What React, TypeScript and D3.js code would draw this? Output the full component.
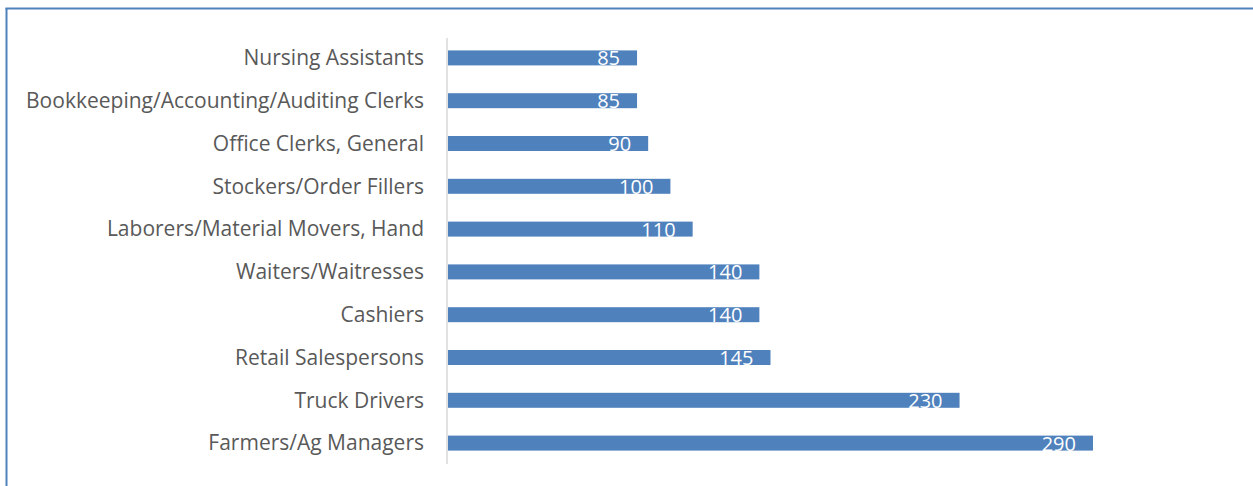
import React from "react";
import * as d3 from "d3";

const categories = [
  "Nursing Assistants",
  "Bookkeeping/Accounting/Auditing Clerks",
  "Office Clerks, General",
  "Stockers/Order Fillers",
  "Laborers/Material Movers, Hand",
  "Waiters/Waitresses",
  "Cashiers",
  "Retail Salespersons",
  "Truck Drivers",
  "Farmers/Ag Managers",
];
const values = [85, 85, 90, 100, 110, 140, 140, 145, 230, 290];

const W = 1253;
const H = 486;
const FONT = "'Open Sans', Lato, sans-serif";

export default function App() {
  const x = d3.scaleLinear().domain([0, 290]).range([448, 1093]);
  const y = d3
    .scaleBand<string>()
    .domain(categories)
    .range([36.5, 464.5])
    .paddingInner(0.65)
    .paddingOuter(0.325);
  const bh = y.bandwidth();
  return (
    <div style={{ position: "absolute", left: 0, top: 0 }}>
      <svg width={W} height={H} style={{ display: "block" }}>
        <rect x={0} y={0} width={W} height={H} fill="#fff" />
        <line x1={6.5} y1={8} x2={6.5} y2={H} stroke="#4f81bd" strokeWidth={2} />
        <line x1={5.5} y1={8.5} x2={W} y2={8.5} stroke="#4f81bd" strokeWidth={2} />
        <line x1={447} y1={38} x2={447} y2={464} stroke="#d9d9d9" strokeWidth={1.5} />
        {categories.map((c, i) => {
          const yc = (y(c) as number) + bh / 2;
          return (
            <g key={c}>
              <rect x={x(0)} y={y(c)} width={x(values[i]) - x(0)} height={bh} fill="#4f81bd" />
              <text
                x={424}
                y={yc}
                dy="0.35em"
                textAnchor="end"
                fontFamily={FONT}
                fontSize={21}
                fill="#595959"
              >
                {c}
              </text>
              <text
                x={x(values[i]) - 17}
                y={yc + 7.5}
                textAnchor="end"
                fontFamily={FONT}
                fontSize={20}
                fill="#ffffff"
              >
                {values[i]}
              </text>
            </g>
          );
        })}
      </svg>
    </div>
  );
}
